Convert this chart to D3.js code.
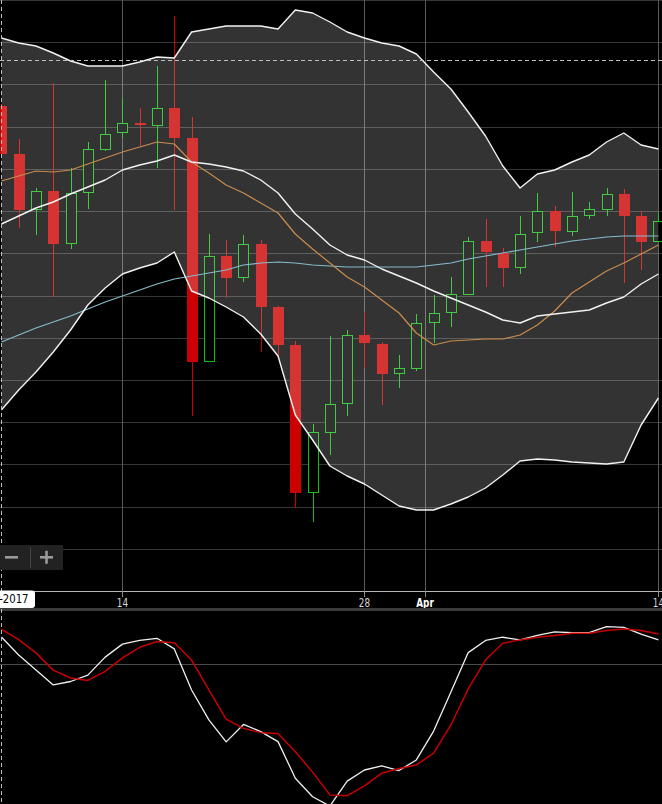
<!DOCTYPE html>
<html><head><meta charset="utf-8">
<script src="https://cdn.jsdelivr.net/npm/d3@7"></script>
<style>html,body{margin:0;padding:0;background:#000;overflow:hidden}svg{display:block}</style>
</head><body><svg id="c" width="662" height="804"></svg>
<script>
// ---------- data ----------
const dates = ["2017-03-07","2017-03-08","2017-03-09","2017-03-10","2017-03-11","2017-03-12","2017-03-13","2017-03-14","2017-03-15","2017-03-16","2017-03-17","2017-03-18","2017-03-19","2017-03-20","2017-03-21","2017-03-22","2017-03-23","2017-03-24","2017-03-25","2017-03-26","2017-03-27","2017-03-28","2017-03-29","2017-03-30","2017-03-31","2017-04-01","2017-04-02","2017-04-03","2017-04-04","2017-04-05","2017-04-06","2017-04-07","2017-04-08","2017-04-09","2017-04-10","2017-04-11","2017-04-12","2017-04-13","2017-04-14"];
const open  = [1194,1146,1090,1109,1056,1107,1150,1167,1177,1174,1192,1162,938,1044,1022,1056,993,955,807,867,896,965,956,926,931,977,987,1005,1059,1047,1032,1067,1089,1068,1084,1090,1106,1084,1058];
const high  = [1196,1161,1112,1217,1132,1158,1220,1201,1192,1234,1284,1183,1066,1060,1065,1060,994,959,876,964,970,988,958,945,986,1005,1023,1063,1081,1052,1084,1107,1094,1108,1098,1112,1111,1089,1088];
const low   = [1144,1072,1065,1003,1051,1091,1149,1162,1154,1132,1090,884,938,1002,1018,948,944,792,778,845,884,932,895,912,929,957,973,1005,1013,1013,1026,1058,1053,1064,1081,1084,1017,1030,1058];
const close = [1146,1090,1109,1056,1107,1151,1166,1177,1175,1192,1162,938,1044,1022,1056,993,955,807,868,896,965,957,926,932,977,987,1006,1059,1048,1032,1066,1089,1069,1084,1091,1106,1084,1058,1079];
const bbUpper  = [1262,1257,1254,1247,1239,1234,1234,1234,1238,1243,1242,1268,1271,1274,1274,1274,1271,1290,1287,1278,1268,1262,1257,1254,1246,1228,1211,1188,1164,1134,1112,1126,1130,1138,1145,1158,1167,1155,1151];
const bbLower  = [890,910,928,948,970,995,1012,1026,1032,1037,1048,1009,1002,993,983,966,944,885,860,834,824,816,805,794,790,790,796,803,812,825,839,841,840,838,837,836,838,875,902];
const bbMiddle = [1076,1084,1092,1098,1106,1113,1120,1130,1135,1139,1145,1138,1136,1133,1129,1120,1107,1086,1071,1055,1045,1040,1031,1024,1017,1009,1002,995,988,980,977,984,986,988,990,997,1003,1016,1026];
const maShort  = [1119,1124,1129,1128,1130,1136,1142,1148,1153,1158,1156,1138,1127,1115,1107,1097,1087,1066,1051,1037,1023,1013,1000,987,967,955,959,960,961,961,965,975,989,1007,1018,1029,1037,1046,1055];
const maLong   = [958,965,972,978,984,991,998,1004,1010,1016,1021,1024,1027,1030,1035,1037,1038,1037,1035,1034,1033,1033,1033,1033,1033,1035,1037,1041,1044,1047,1050,1053,1056,1059,1061,1063,1064,1064,1064];
const stochK = [90.2,83.4,77.7,72.1,73.4,75.8,82.6,87.5,88.9,89.7,85.7,70.2,58.9,50.6,57.2,54.5,50.7,36.9,29.9,26.4,35.8,40.0,41.6,39.8,43.8,54.7,69.4,84.3,88.9,90.1,89.1,90.8,92.1,91.8,91.8,94.1,93.8,91.3,89.1];
const stochD = [93.2,89.2,84.2,77.7,74.7,73.8,77.2,82.3,86.3,88.5,88.0,81.5,70.2,59.2,55.7,54.1,53.8,46.9,39.2,30.6,30.3,34.0,38.8,40.6,41.9,46.4,57.0,70.6,81.5,87.8,89.1,90.1,90.8,91.6,91.6,92.6,93.2,92.6,91.3];
const xTickDates  = ["2017-03-14T00:00","2017-03-28T00:00","2017-03-31T12:00","2017-04-14T00:00"];
const xTickLabels = ["14","28","Apr","14"];
const xTickBold   = [false,false,true,false];
const priceDomain = [709,1300];
const priceGridCount = 14;
const stochPlotLines = [80];
const crosshairDate = "2017-03-07";
const crosshairPrice = 1239.5;
const crosshairLabel = "07-Mar-2017";

// ---------- setup ----------
const W = 662, H = 804, plotBottom = 591;
const parse = d3.utcParse("%Y-%m-%d");
const parseT = d3.utcParse("%Y-%m-%dT%H:%M");
const D = dates.map(parse);
const x = d3.scaleUtc().domain([D[0], D[D.length-1]]).range([1.4, 658.4]);
const y = d3.scaleLinear().domain(priceDomain).range([plotBottom, 0]);
const ys = d3.scaleLinear().domain([0,100]).range([876, 611]);
const FONT = "'Liberation Sans Narrow','DejaVu Sans Condensed','Arial Narrow',sans-serif";
const NARROW = 0.82;

const svg = d3.select("#c");
svg.append("rect").attr("width",W).attr("height",H).attr("fill","#000");
const defs = svg.append("defs");
defs.append("clipPath").attr("id","mainClip").append("rect").attr("x",0).attr("y",0).attr("width",W).attr("height",plotBottom);
defs.append("clipPath").attr("id","stochClip").append("rect").attr("x",0).attr("y",611).attr("width",W).attr("height",H-611);

const main = svg.append("g").attr("clip-path","url(#mainClip)");

// horizontal grid
const gridVals = d3.range(priceGridCount+1).map(i => priceDomain[0] + i*(priceDomain[1]-priceDomain[0])/priceGridCount);
main.append("g").selectAll("line").data(gridVals).join("line")
  .attr("x1",0).attr("x2",W)
  .attr("y1",d=>Math.round(y(d))+0.5).attr("y2",d=>Math.round(y(d))+0.5)
  .attr("stroke","#383838").attr("stroke-width",1);

// vertical grid
const tickD = xTickDates.map(parseT);
main.append("g").selectAll("line").data(tickD).join("line")
  .attr("x1",d=>Math.round(x(d))+0.5).attr("x2",d=>Math.round(x(d))+0.5)
  .attr("y1",0).attr("y2",plotBottom)
  .attr("stroke","#5a5a5a").attr("stroke-width",1);

// candles
const candles = D.map((d,i)=>({d, o:open[i], h:high[i], l:low[i], c:close[i]}));
const step = x(D[1]) - x(D[0]);
const bw = Math.round(step*0.61);
const RED = "#cc0000", GREEN = "#14bd14";
const cg = main.append("g");
candles.forEach(k=>{
  const cx = Math.round(x(k.d));
  const up = k.c >= k.o;
  const col = up ? GREEN : RED;
  cg.append("line").attr("x1",cx+0.5).attr("x2",cx+0.5)
    .attr("y1",Math.round(y(k.h))).attr("y2",Math.round(y(k.l)))
    .attr("stroke",col).attr("stroke-width",1);
  const top = Math.round(y(Math.max(k.o,k.c))), bot = Math.round(y(Math.min(k.o,k.c)));
  if (up) {
    cg.append("rect").attr("x",cx - Math.floor(bw/2)+0.5).attr("y",top+0.5)
      .attr("width",bw-1).attr("height",Math.max(1,bot-top-1))
      .attr("fill","#000").attr("stroke",col).attr("stroke-width",1);
  } else {
    cg.append("rect").attr("x",cx - Math.floor(bw/2)).attr("y",top)
      .attr("width",bw).attr("height",Math.max(2,bot-top))
      .attr("fill",col);
  }
});

// Bollinger band fill
const band = D.map((d,i)=>({d, u:bbUpper[i], l:bbLower[i]}));
main.append("path").datum(band)
  .attr("d", d3.area().x(p=>x(p.d)).y0(p=>y(p.l)).y1(p=>y(p.u)))
  .attr("fill","rgba(255,255,255,0.2)");

function drawLine(g, vals, scale, color, width){
  g.append("path").datum(vals.map((v,i)=>[x(D[i]), scale(v)]))
    .attr("d", d3.line())
    .attr("fill","none").attr("stroke",color).attr("stroke-width",width)
    .attr("stroke-linejoin","round");
}
drawLine(main, maLong, y, "#86bccb", 1.2);
drawLine(main, maShort, y, "#c98c4e", 1.2);
drawLine(main, bbMiddle, y, "#f2f2f2", 1.4);
drawLine(main, bbUpper, y, "#f2f2f2", 1.4);
drawLine(main, bbLower, y, "#f2f2f2", 1.4);

// horizontal crosshair
main.append("line").attr("x1",0).attr("x2",W)
  .attr("y1",Math.round(y(crosshairPrice))+0.5).attr("y2",Math.round(y(crosshairPrice))+0.5)
  .attr("stroke","#bdbdbd").attr("stroke-width",1).attr("stroke-dasharray","4,3");

// x axis
svg.append("line").attr("x1",0).attr("x2",W).attr("y1",plotBottom+0.5).attr("y2",plotBottom+0.5)
  .attr("stroke","#b8b8b8").attr("stroke-width",1);
svg.append("g").selectAll("line").data(tickD).join("line")
  .attr("x1",d=>Math.round(x(d))+0.5).attr("x2",d=>Math.round(x(d))+0.5)
  .attr("y1",plotBottom).attr("y2",plotBottom+6)
  .attr("stroke","#8a8a8a");
svg.append("g").selectAll("text").data(tickD).join("text")
  .attr("transform",d=>`translate(${x(d)},607) scale(${NARROW},1)`)
  .attr("text-anchor","middle")
  .attr("font-family",FONT).attr("font-size",12)
  .attr("font-weight",(d,i)=>xTickBold[i]?"bold":"normal")
  .attr("fill",(d,i)=>xTickBold[i]?"#ffffff":"#d8d8d8")
  .text((d,i)=>xTickLabels[i]);

// separator
svg.append("rect").attr("x",0).attr("y",608).attr("width",W).attr("height",3).attr("fill","#3a3a3a");

// stochastic panel
const sg = svg.append("g").attr("clip-path","url(#stochClip)");
sg.selectAll("line.pl").data(stochPlotLines).join("line").attr("class","pl")
  .attr("x1",0).attr("x2",W).attr("y1",d=>Math.round(ys(d))+0.5).attr("y2",d=>Math.round(ys(d))+0.5)
  .attr("stroke","#4a4a4a").attr("stroke-width",1);
drawLine(sg, stochK, ys, "#f0f0f0", 1.3);
drawLine(sg, stochD, ys, "#c80000", 1.5);

// vertical crosshair
const chx = Math.round(x(parse(crosshairDate)))+0.5;
svg.append("line").attr("x1",chx).attr("x2",chx).attr("y1",0).attr("y2",H)
  .attr("stroke","#bdbdbd").attr("stroke-width",1).attr("stroke-dasharray","4,3");

// crosshair date label
const lg = svg.append("g");
lg.append("rect").attr("x",chx-70).attr("y",590.5).attr("width",70+33.5).attr("height",17.5)
  .attr("rx",3).attr("fill","#ffffff");
lg.append("text").attr("transform",`translate(${chx+27},603) scale(0.9,1)`).attr("text-anchor","end")
  .attr("font-family",FONT).attr("font-size",12.5).attr("fill","#000")
  .text(crosshairLabel);

// zoom buttons
const zb = svg.append("g");
zb.append("rect").attr("x",0).attr("y",545).attr("width",63).attr("height",25).attr("fill","#222222");
zb.append("rect").attr("x",5).attr("y",556).attr("width",13).attr("height",2.6).attr("fill","#9a9a9a");
zb.append("line").attr("x1",30.5).attr("x2",30.5).attr("y1",547).attr("y2",568).attr("stroke","#444");
zb.append("rect").attr("x",40).attr("y",556).attr("width",13).attr("height",2.6).attr("fill","#9a9a9a");
zb.append("rect").attr("x",45.2).attr("y",550.8).attr("width",2.6).attr("height",13).attr("fill","#9a9a9a");
</script></body></html>
